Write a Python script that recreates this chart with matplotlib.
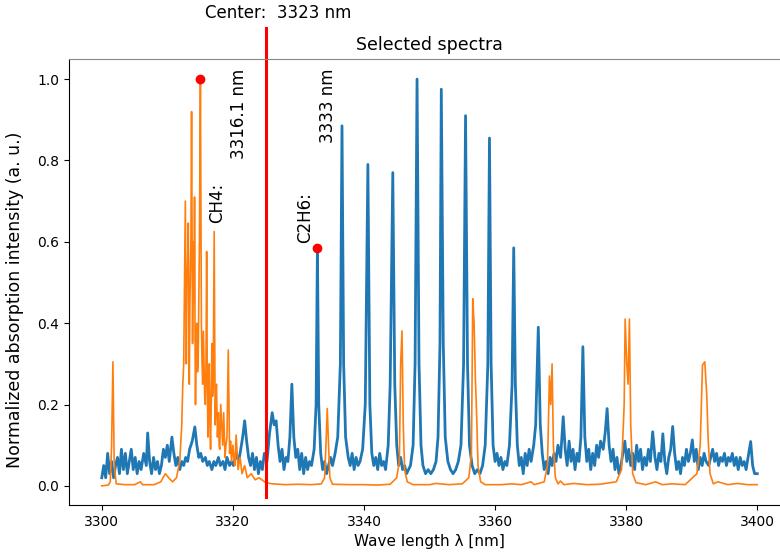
import matplotlib
matplotlib.use("Agg")
import matplotlib.pyplot as plt

# ---- data ----
blue_wl = [3300.0, 3300.3, 3300.6, 3300.9, 3301.2, 3301.5, 3301.8, 3302.1, 3302.4, 3302.7,
           3303.0, 3303.3, 3303.6, 3303.9, 3304.2, 3304.5, 3304.8, 3305.1, 3305.4, 3305.7,
           3306.0, 3306.4, 3306.8, 3307.0, 3307.3, 3307.6, 3307.9, 3308.2, 3308.5, 3308.8,
           3309.1, 3309.4, 3309.7, 3310.0, 3310.3, 3310.7, 3311.0, 3311.3, 3311.6, 3311.9,
           3312.2, 3312.5, 3312.8, 3313.1, 3313.4, 3313.8, 3314.2, 3314.5, 3314.8, 3315.1,
           3315.4, 3315.8, 3316.1, 3316.4, 3316.8, 3317.1, 3317.4, 3317.8, 3318.1, 3318.5,
           3318.8, 3319.1, 3319.5, 3319.8, 3320.1, 3320.5, 3320.9, 3321.2, 3321.5, 3321.8,
           3322.1, 3322.4, 3322.7, 3323.0, 3323.3, 3323.6, 3323.9, 3324.2, 3324.5, 3324.8,
           3325.2, 3325.6, 3326.0, 3326.3, 3326.6, 3326.9, 3327.2, 3327.5, 3327.8, 3328.1,
           3328.4, 3328.7, 3329.0, 3329.3, 3329.6, 3329.9, 3330.2, 3330.5, 3330.8, 3331.1,
           3331.4, 3331.7, 3332.0, 3332.4, 3332.7, 3332.9, 3333.1, 3333.4, 3333.7, 3334.0,
           3334.3, 3334.6, 3334.9, 3335.2, 3335.6, 3336.0, 3336.4, 3336.65, 3336.9, 3337.2,
           3337.6, 3337.9, 3338.2, 3338.5, 3338.8, 3339.1, 3339.4, 3339.8, 3340.2, 3340.6,
           3340.9, 3341.2, 3341.5, 3341.8, 3342.1, 3342.4, 3342.7, 3343.0, 3343.3, 3343.7,
           3344.0, 3344.4, 3344.7, 3345.0, 3345.3, 3345.6, 3345.9, 3346.2, 3346.5, 3346.8,
           3347.1, 3347.5, 3347.8, 3348.1, 3348.4, 3348.7, 3349.0, 3349.4, 3349.8, 3350.2,
           3350.6, 3351.0, 3351.3, 3351.6, 3351.8, 3352.1, 3352.4, 3352.8, 3353.2, 3353.6,
           3354.0, 3354.4, 3354.8, 3355.2, 3355.5, 3355.8, 3356.1, 3356.5, 3356.9, 3357.3,
           3357.7, 3358.1, 3358.5, 3358.9, 3359.15, 3359.4, 3359.7, 3360.0, 3360.3, 3360.6,
           3360.9, 3361.2, 3361.5, 3361.8, 3362.2, 3362.6, 3362.85, 3363.1, 3363.4, 3363.7,
           3364.0, 3364.3, 3364.6, 3364.9, 3365.2, 3365.5, 3365.9, 3366.2, 3366.6, 3366.9,
           3367.2, 3367.5, 3367.8, 3368.1, 3368.4, 3368.7, 3369.0, 3369.3, 3369.6, 3370.0,
           3370.4, 3370.7, 3371.0, 3371.3, 3371.6, 3371.9, 3372.2, 3372.5, 3372.8, 3373.1,
           3373.4, 3373.7, 3374.0, 3374.3, 3374.6, 3374.9, 3375.2, 3375.5, 3375.8, 3376.1,
           3376.5, 3376.8, 3377.1, 3377.4, 3377.7, 3378.0, 3378.3, 3378.6, 3378.9, 3379.2,
           3379.5, 3379.8, 3380.1, 3380.4, 3380.7, 3381.0, 3381.3, 3381.6, 3381.9, 3382.2,
           3382.5, 3382.8, 3383.1, 3383.4, 3383.7, 3384.05, 3384.4, 3384.7, 3385.0, 3385.3,
           3385.6, 3385.9, 3386.2, 3386.5, 3386.8, 3387.1, 3387.4, 3387.7, 3388.0, 3388.3,
           3388.6, 3388.9, 3389.2, 3389.5, 3389.8, 3390.1, 3390.4, 3390.7, 3391.0, 3391.3,
           3391.6, 3391.9, 3392.2, 3392.6, 3392.9, 3393.2, 3393.5, 3393.8, 3394.1, 3394.4,
           3394.7, 3395.0, 3395.3, 3395.6, 3395.9, 3396.2, 3396.5, 3396.8, 3397.1, 3397.4,
           3397.7, 3398.0, 3398.3, 3398.6, 3399.0, 3399.3, 3399.6, 3400.0]
blue_int = [0.02, 0.05, 0.02, 0.08, 0.03, 0.06, 0.02, 0.05, 0.07, 0.03,
            0.09, 0.04, 0.08, 0.03, 0.06, 0.09, 0.04, 0.07, 0.03, 0.06,
            0.04, 0.08, 0.05, 0.13, 0.06, 0.03, 0.07, 0.04, 0.06, 0.03,
            0.05, 0.09, 0.07, 0.10, 0.06, 0.12, 0.08, 0.05, 0.07, 0.04,
            0.06, 0.05, 0.07, 0.06, 0.09, 0.11, 0.145, 0.10, 0.07, 0.08,
            0.06, 0.07, 0.05, 0.06, 0.04, 0.06, 0.05, 0.07, 0.05, 0.06,
            0.04, 0.07, 0.05, 0.06, 0.05, 0.08, 0.06, 0.09, 0.12, 0.16,
            0.11, 0.07, 0.05, 0.08, 0.04, 0.07, 0.03, 0.06, 0.04, 0.08,
            0.06, 0.13, 0.18, 0.15, 0.16, 0.10, 0.06, 0.09, 0.04, 0.07,
            0.06, 0.12, 0.25, 0.12, 0.07, 0.09, 0.04, 0.08, 0.03, 0.07,
            0.04, 0.06, 0.05, 0.09, 0.20, 0.585, 0.20, 0.08, 0.04, 0.06,
            0.03, 0.05, 0.07, 0.05, 0.08, 0.12, 0.30, 0.885, 0.30, 0.12,
            0.07, 0.05, 0.08, 0.04, 0.07, 0.05, 0.06, 0.09, 0.20, 0.79,
            0.20, 0.08, 0.05, 0.07, 0.04, 0.08, 0.05, 0.06, 0.04, 0.10,
            0.25, 0.77, 0.25, 0.10, 0.05, 0.07, 0.04, 0.05, 0.03, 0.04,
            0.05, 0.10, 0.30, 1.0, 0.30, 0.10, 0.05, 0.03, 0.04, 0.03,
            0.04, 0.06, 0.12, 0.35, 0.975, 0.35, 0.12, 0.06, 0.04, 0.03,
            0.04, 0.06, 0.10, 0.30, 0.91, 0.30, 0.10, 0.05, 0.03, 0.04,
            0.03, 0.05, 0.10, 0.30, 0.855, 0.30, 0.10, 0.06, 0.08, 0.05,
            0.07, 0.04, 0.06, 0.05, 0.10, 0.25, 0.585, 0.25, 0.10, 0.05,
            0.07, 0.03, 0.08, 0.05, 0.09, 0.06, 0.10, 0.15, 0.39, 0.15,
            0.08, 0.04, 0.06, 0.03, 0.07, 0.05, 0.08, 0.06, 0.10, 0.07,
            0.17, 0.09, 0.05, 0.11, 0.06, 0.09, 0.04, 0.08, 0.06, 0.12,
            0.342, 0.12, 0.06, 0.09, 0.04, 0.08, 0.05, 0.10, 0.07, 0.11,
            0.09, 0.13, 0.19, 0.10, 0.06, 0.09, 0.04, 0.07, 0.03, 0.05,
            0.08, 0.11, 0.06, 0.09, 0.05, 0.08, 0.04, 0.10, 0.06, 0.09,
            0.04, 0.07, 0.05, 0.09, 0.06, 0.133, 0.07, 0.04, 0.08, 0.06,
            0.128, 0.06, 0.03, 0.07, 0.09, 0.146, 0.08, 0.04, 0.06, 0.03,
            0.07, 0.05, 0.09, 0.06, 0.08, 0.113, 0.06, 0.09, 0.04, 0.07,
            0.05, 0.08, 0.06, 0.05, 0.07, 0.09, 0.06, 0.08, 0.05, 0.07,
            0.06, 0.08, 0.05, 0.07, 0.06, 0.08, 0.05, 0.07, 0.04, 0.07,
            0.05, 0.06, 0.04, 0.07, 0.109, 0.05, 0.03, 0.03]

orange_wl = [3300.0, 3301.0, 3301.3, 3301.5, 3301.7, 3301.9, 3302.2, 3303.5, 3305.0, 3305.9,
             3306.2, 3308.0, 3309.0, 3309.7, 3310.2, 3310.8, 3311.4, 3311.9, 3312.2, 3312.35,
             3312.5, 3312.6, 3312.75, 3312.85, 3312.9, 3313.0, 3313.1, 3313.2, 3313.3, 3313.35,
             3313.45, 3313.6, 3313.7, 3313.8, 3313.85, 3313.95, 3314.0, 3314.1, 3314.15, 3314.25,
             3314.3, 3314.4, 3314.5, 3314.6, 3314.7, 3314.8, 3314.9, 3315.05, 3315.2, 3315.3,
             3315.4, 3315.5, 3315.6, 3315.7, 3315.8, 3315.9, 3316.0, 3316.1, 3316.2, 3316.3,
             3316.4, 3316.5, 3316.6, 3316.7, 3316.8, 3316.9, 3317.0, 3317.15, 3317.3, 3317.4,
             3317.5, 3317.65, 3317.8, 3317.9, 3318.0, 3318.15, 3318.3, 3318.45, 3318.6, 3318.8,
             3318.95, 3319.1, 3319.3, 3319.5, 3319.65, 3319.8, 3320.0, 3320.15, 3320.3, 3320.5,
             3320.8, 3321.1, 3321.4, 3321.8, 3322.2, 3322.8, 3323.4, 3324.0, 3325.0, 3326.0,
             3328.0, 3330.0, 3332.0, 3333.5, 3334.0, 3334.2, 3334.4, 3334.6, 3334.8, 3335.2,
             3338.0, 3340.0, 3342.0, 3344.0, 3345.0, 3345.4, 3345.6, 3345.8, 3346.0, 3346.2,
             3346.6, 3347.5, 3350.0, 3351.0, 3353.0, 3355.0, 3356.0, 3356.4, 3356.6, 3356.8,
             3357.0, 3357.2, 3357.4, 3357.8, 3358.5, 3361.0, 3362.5, 3364.0, 3365.5, 3366.0,
             3367.5, 3368.0, 3368.3, 3368.5, 3368.7, 3368.9, 3369.2, 3369.6, 3370.0, 3370.5,
             3372.0, 3374.0, 3376.0, 3378.5, 3379.3, 3379.7, 3379.85, 3380.1, 3380.3, 3380.5,
             3380.7, 3381.0, 3381.5, 3383.0, 3384.5, 3385.5, 3387.0, 3389.0, 3390.8, 3391.3,
             3391.65, 3392.0, 3392.3, 3392.5, 3392.8, 3393.3, 3394.0, 3395.5, 3397.0, 3398.5,
             3400.0]
orange_int = [0.0, 0.002, 0.01, 0.10, 0.305, 0.05, 0.005, 0.003, 0.003, 0.01,
              0.003, 0.003, 0.01, 0.03, 0.02, 0.01, 0.02, 0.06, 0.15, 0.244,
              0.30, 0.45, 0.70, 0.40, 0.30, 0.50, 0.55, 0.646, 0.35, 0.25,
              0.45, 0.60, 0.92, 0.50, 0.35, 0.55, 0.60, 0.45, 0.71, 0.30,
              0.20, 0.35, 0.40, 0.28, 0.30, 0.45, 0.60, 1.0, 0.40, 0.30,
              0.25, 0.38, 0.30, 0.22, 0.20, 0.30, 0.576, 0.25, 0.12, 0.22,
              0.30, 0.15, 0.09, 0.20, 0.35, 0.22, 0.25, 0.625, 0.15, 0.22,
              0.25, 0.12, 0.18, 0.10, 0.09, 0.20, 0.15, 0.10, 0.18, 0.07,
              0.10, 0.12, 0.334, 0.08, 0.11, 0.06, 0.10, 0.07, 0.05, 0.125,
              0.04, 0.07, 0.03, 0.05, 0.02, 0.03, 0.015, 0.02, 0.008, 0.005,
              0.003, 0.004, 0.003, 0.005, 0.02, 0.10, 0.19, 0.10, 0.02, 0.004,
              0.003, 0.003, 0.002, 0.004, 0.02, 0.06, 0.30, 0.381, 0.15, 0.04,
              0.01, 0.003, 0.003, 0.006, 0.003, 0.005, 0.02, 0.08, 0.46, 0.40,
              0.265, 0.17, 0.05, 0.01, 0.003, 0.003, 0.005, 0.003, 0.01, 0.003,
              0.01, 0.05, 0.27, 0.20, 0.30, 0.10, 0.02, 0.005, 0.012, 0.003,
              0.006, 0.003, 0.004, 0.01, 0.04, 0.20, 0.41, 0.30, 0.25, 0.41,
              0.15, 0.03, 0.008, 0.003, 0.01, 0.003, 0.005, 0.003, 0.03, 0.10,
              0.297, 0.305, 0.224, 0.12, 0.03, 0.005, 0.01, 0.003, 0.006, 0.003,
              0.003]

center_wl = 3325.0
peak_points_wl = [3315.05, 3332.9]
peak_points_int = [1.0, 0.585]
annotations = [
    (3321.0, 1.025, "3316.1 nm", "top"),
    (3317.6, 0.645, "CH4:", "bottom"),
    (3334.5, 1.025, "3333 nm", "top"),
    (3331.0, 0.597, "C2H6:", "bottom"),
]
xticks = [3300, 3320, 3340, 3360, 3380, 3400]

# ---- figure ----
fig = plt.figure(figsize=(7.8, 5.59), dpi=100)
W, H = 780, 559
ax = fig.add_axes([69 / W, 1 - 505 / H, (790 - 69) / W, (505 - 58.7) / H])

ax.plot(blue_wl, blue_int, color="#1f77b4", lw=2.0)
ax.plot(orange_wl, orange_int, color="#ff7f0e", lw=1.2)
ax.plot(peak_points_wl, peak_points_int, "o", color="red", ms=6, ls="none")
ax.plot([center_wl, center_wl], [-0.027, 1.125], color="red", lw=2.2, clip_on=False)

for x, y, s, va in annotations:
    ax.text(x, y, s, rotation=90, ha="center", va=va, fontsize=12)

ax.text(3315.8, 1.14, "Center:  3323 nm", fontsize=12, ha="left", va="bottom")
ax.set_title("Selected spectra", fontsize=12.5)

ax.set_xlim(3295, 3405)
ax.set_ylim(-0.047, 1.05)
ax.set_xticks(xticks)
ax.set_xlabel("Wave length \u03bb [nm]", fontsize=11)
ax.set_ylabel("Normalized absorption intensity (a. u.)", fontsize=12.5)
ax.yaxis.set_label_coords(-0.062, 0.46)
ax.spines["top"].set_color("#888888")

fig.savefig("out.png", dpi=100)
